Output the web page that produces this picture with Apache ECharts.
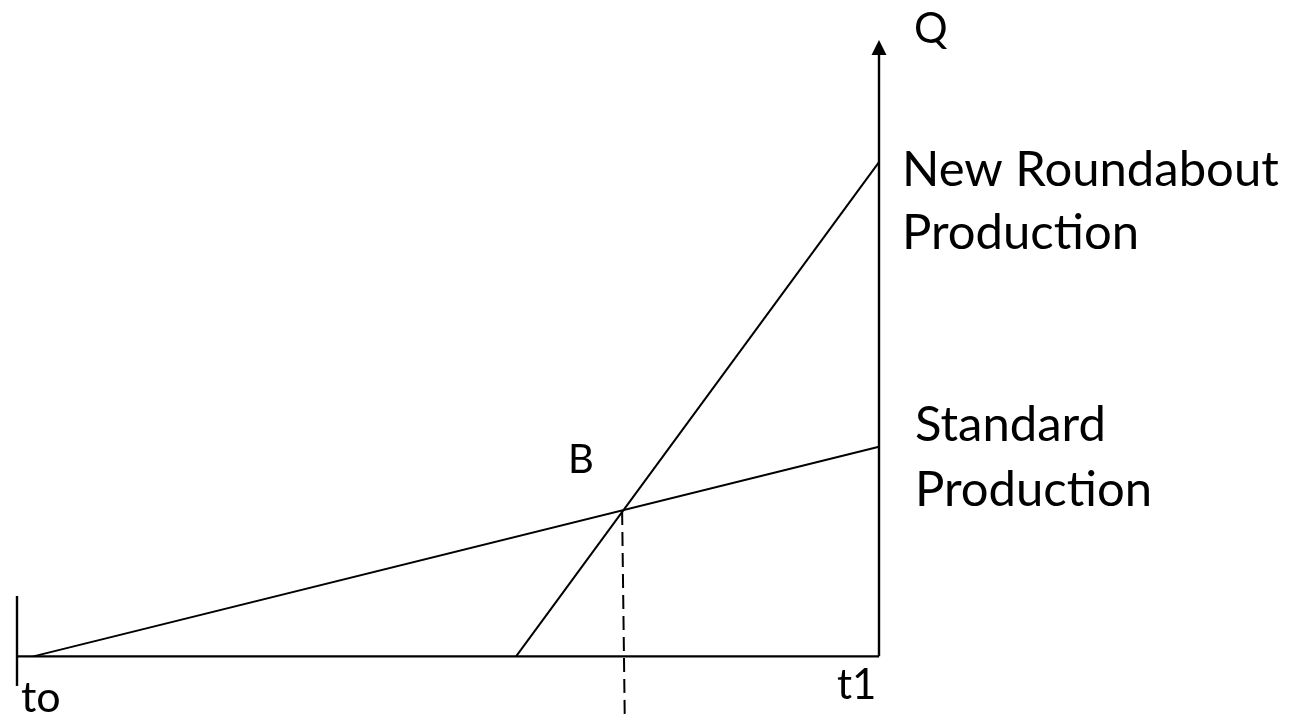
<!DOCTYPE html>
<html>
<head>
<meta charset="utf-8">
<script src="https://cdn.jsdelivr.net/npm/echarts@6/dist/echarts.min.js"></script>
<style>
html,body{margin:0;padding:0;background:#fff;}
#chart{width:1297px;height:718px;}
</style>
</head>
<body>
<div id="chart"></div>
<script>
// Data (abstract time t on x, quantity Q on y)
const standardProduction = [[1.9, 0], [100, 34.0]];
const roundaboutProduction = [[57.9, 0], [100, 80.2]];
const dropLine = [[70.2, 23.6], [70.5, -9.4]];
const timeAxis = [[0, 0], [100, 0]];
const qAxis = [[100, 0], [100, 98.8]];
const originTick = [[0, 9.8], [0, -4.8]];
const labels = {
  q: 'Q', newProd: ['New Roundabout', 'Production'], stdProd: ['Standard', 'Production'],
  b: 'B', t0: 'to', t1: 't1'
};

const chart = echarts.init(document.getElementById('chart'), null, {renderer: 'canvas'});
const FONT = 'Lato, "Open Sans", sans-serif';
const lineStyle = {color: '#000', width: 2.4};
function seg(data, extra) {
  return Object.assign({
    type: 'line', data: data, symbol: 'none', silent: true,
    lineStyle: Object.assign({}, lineStyle), clip: false
  }, extra || {});
}
function txt(t, x, y, size) {
  return {type: 'text', x: x, y: y, silent: true,
    style: {text: t, font: (size || 39) + 'px ' + FONT, fill: '#000', textAlign: 'left', textVerticalAlign: 'middle'}};
}
chart.setOption({
  animation: false,
  backgroundColor: '#fff',
  grid: {left: 17, right: 1297 - 879, top: 40, bottom: -4},
  xAxis: {type: 'value', min: 0, max: 100, show: false},
  yAxis: {type: 'value', min: -10, max: 100, show: false},
  series: [
    seg(timeAxis),
    seg(originTick),
    seg(qAxis, {
      symbol: function (v, p) { return p.dataIndex === 1 ? 'triangle' : 'none'; },
      symbolSize: [15, 15], showAllSymbol: true,
      itemStyle: {color: '#000'}
    }),
    seg(standardProduction, {lineStyle: {color: '#000', width: 2}}),
    seg(roundaboutProduction, {lineStyle: {color: '#000', width: 2}}),
    seg(dropLine, {lineStyle: {color: '#000', width: 2, type: [14, 7]}})
  ],
  graphic: [
    txt(labels.q, 914, 29, 42),
    txt(labels.newProd[0], 902, 170, 49),
    txt(labels.newProd[1], 902, 233, 49),
    txt(labels.stdProd[0], 915, 425, 49),
    txt(labels.stdProd[1], 915, 490, 49),
    txt(labels.b, 568, 460, 40),
    txt(labels.t0, 21, 698, 43),
    txt(labels.t1, 837, 685, 42)
  ]
});
</script>
</body>
</html>
